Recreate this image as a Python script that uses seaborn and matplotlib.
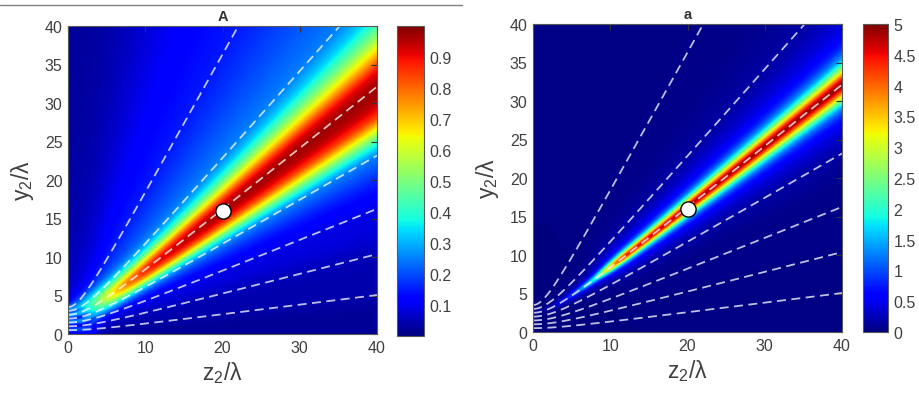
import numpy as np
import matplotlib
matplotlib.use('Agg')
import matplotlib.pyplot as plt
from matplotlib.lines import Line2D
import seaborn as sns

# panels
titles = ['A', 'a']
vmax_list = [1.0, 5.0]
cbar_ticks = [[0.1, 0.2, 0.3, 0.4, 0.5, 0.6, 0.7, 0.8, 0.9],
              [0, 0.5, 1, 1.5, 2, 2.5, 3, 3.5, 4, 4.5, 5]]

# sources sit at y2 = +/-4 lambda, dashed lines = path difference of 1..7 lambda
source_y = 4.0
path_levels = [1, 2, 3, 4, 5, 6, 7]

u_A = [0, 0.5, 1.0, 1.5, 2.0, 2.5, 3.0, 3.5, 4.0, 4.2, 4.4, 4.6, 4.8, 5.0,
       5.2, 5.4, 5.6, 5.8, 6.0, 6.5, 7.0, 7.5, 7.8, 8.0]
val_A = [0.02, 0.02, 0.04, 0.04, 0.05, 0.08, 0.09, 0.15, 0.25, 0.40, 0.62, 0.85, 0.95, 0.98,
         0.90, 0.68, 0.48, 0.33, 0.25, 0.20, 0.15, 0.12, 0.07, 0.02]

# a read the same way
u_a = [0, 3.4, 3.8, 4.1, 4.4, 4.58, 4.7, 4.81, 4.9, 4.96, 5.0,
       5.04, 5.1, 5.19, 5.3, 5.42, 5.6, 5.9, 6.2, 6.6, 8.0]
val_a = [0.02, 0.05, 0.12, 0.2, 0.44, 0.82, 1.4, 2.6, 4.0, 4.8, 5.0,
         4.8, 4.0, 2.6, 1.4, 0.82, 0.44, 0.2, 0.12, 0.05, 0.02]

# a grows along the beam away from the sources
r_a = [0, 3, 5.7, 8, 10.6, 13, 15, 60]
env_a = [0, 0.05, 0.2, 0.35, 0.5, 0.85, 1.0, 1.0]

# blur close to the sources
smear = [14.0, 1.2]
smear_pow = [1.5, 1.0]

peak_z, peak_y = 20, 16

# grid in z2/lambda, y2/lambda
n = 401
grid = np.linspace(0, 40, n)
Zg, Yg = np.meshgrid(grid, grid)
U = np.hypot(Zg, Yg + source_y) - np.hypot(Zg, Yg - source_y)
R = np.hypot(Zg, Yg)
nodes, weights = np.polynomial.hermite_e.hermegauss(25)
weights = weights / weights.sum()


def field(uk, vk, k, p):
    sig = np.minimum(k / np.maximum(R, 1e-3) ** p, 3.0)
    out = np.zeros_like(U)
    for x, w in zip(nodes, weights):
        out += w * np.interp(np.abs(U + sig * x), uk, vk)
    return out


fields = [field(u_A, val_A, smear[0], smear_pow[0]),
          field(u_a, val_a, smear[1], smear_pow[1]) * np.interp(R, r_a, env_a)]

sns.set_theme(style='white')
plt.rcParams['font.family'] = ['Liberation Sans', 'DejaVu Sans']
plt.rcParams['mathtext.fontset'] = 'custom'
plt.rcParams['mathtext.rm'] = 'Liberation Sans'

fig = plt.figure(figsize=(9.2, 4.14), dpi=100)
W, H = 920, 414
ax_px = [(68, 27, 377, 335), (533, 25, 842, 333)]
cb_px = [(397, 27, 424, 337), (863, 25, 888, 333)]

for i in range(2):
    x0, y0, x1, y1 = ax_px[i]
    ax = fig.add_axes([x0 / W, 1 - y1 / H, (x1 - x0) / W, (y1 - y0) / H])
    im = ax.imshow(fields[i], extent=[0, 40, 0, 40], origin='lower', cmap='jet',
                   vmin=0, vmax=vmax_list[i], aspect='auto', interpolation='bilinear')
    ax.contour(Zg, Yg, U, levels=path_levels, colors='white', linewidths=1.3, alpha=0.75,
               linestyles=[(0, (5, 3))] * len(path_levels))
    sns.scatterplot(x=[peak_z], y=[peak_y], ax=ax, s=120, color='white',
                    edgecolor='black', linewidth=1, zorder=5, legend=False)
    ax.set_xlim(0, 40)
    ax.set_ylim(0, 40)
    ax.set_xticks(range(0, 41, 10))
    ax.set_yticks(range(0, 41, 5))
    ax.tick_params(direction='in', length=4, width=0.8, top=True, right=True,
                   labelsize=11.5, labelcolor='0.25', color='0.2', pad=4)
    for sp in ax.spines.values():
        sp.set_color('0.35')
        sp.set_linewidth(0.8)
    ax.set_xlabel(r'$\mathregular{z_2/\lambda}$', fontsize=16.5, color='0.25', labelpad=3)
    ax.set_ylabel(r'$\mathregular{y_2/\lambda}$', fontsize=16.5, color='0.25', labelpad=6)
    ax.set_title(titles[i], fontsize=10.5, fontweight='bold', color='0.2', pad=4)

    cx0, cy0, cx1, cy1 = cb_px[i]
    cax = fig.add_axes([cx0 / W, 1 - cy1 / H, (cx1 - cx0) / W, (cy1 - cy0) / H])
    cb = fig.colorbar(im, cax=cax)
    cb.set_ticks(cbar_ticks[i])
    cb.set_ticklabels([f'{t:g}' for t in cbar_ticks[i]])
    cax.tick_params(direction='in', length=3, width=0.8, labelsize=11.5,
                    labelcolor='0.25', color='0.2', pad=4)
    cb.outline.set_edgecolor('0.35')
    cb.outline.set_linewidth(0.8)

fig.add_artist(Line2D([0, 462 / W], [1 - 6 / H] * 2, color='0.5', lw=1))

fig.savefig('out.png', dpi=100)
